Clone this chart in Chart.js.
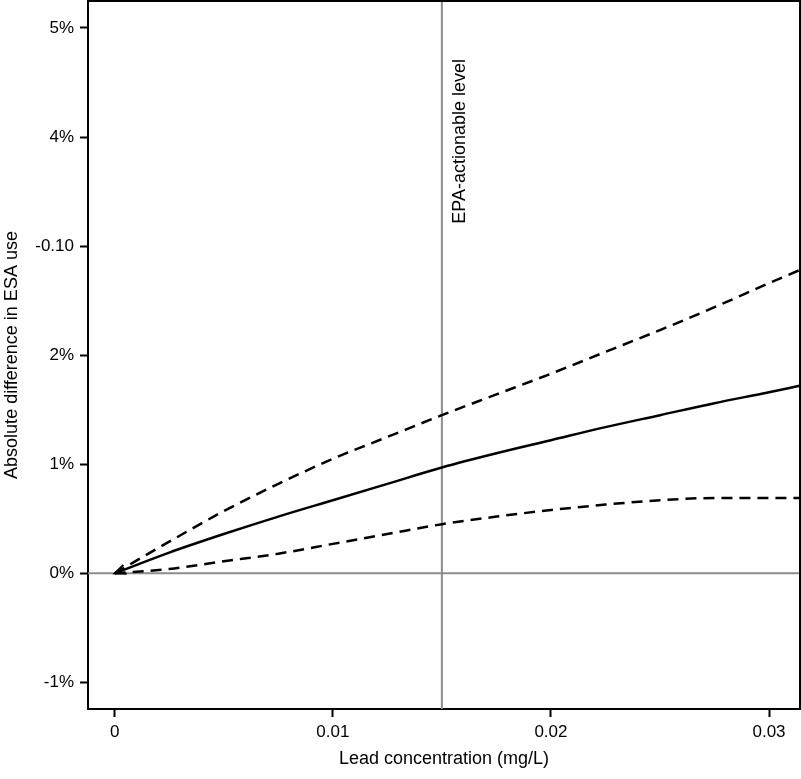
<!DOCTYPE html>
<html>
<head>
<meta charset="utf-8">
<script src="https://cdn.jsdelivr.net/npm/chart.js@4.4.1/dist/chart.umd.min.js"></script>
<style>
  html, body { margin: 0; padding: 0; background: #fff; }
  #wrap { width: 801px; height: 779px; position: relative; }
</style>
</head>
<body>
<div id="wrap"><canvas id="c" width="801" height="779"></canvas></div>
<script>
// ---- data ----
const leadConc   = [0, 0.0025, 0.005, 0.0075, 0.01, 0.0125, 0.015, 0.0175, 0.02, 0.0225, 0.025, 0.0275, 0.03, 0.0314];
const estimate   = [0, 0.19, 0.36, 0.52, 0.67, 0.82, 0.97, 1.10, 1.22, 1.34, 1.45, 1.56, 1.66, 1.72];
const upperCI    = [0, 0.29, 0.57, 0.82, 1.05, 1.25, 1.45, 1.64, 1.83, 2.03, 2.23, 2.44, 2.66, 2.78];
const lowerCI    = [0, 0.04, 0.11, 0.18, 0.27, 0.36, 0.45, 0.52, 0.58, 0.63, 0.67, 0.69, 0.69, 0.69];
const xTicks      = [0, 0.01, 0.02, 0.03];
const xTickLabels = ['0', '0.01', '0.02', '0.03'];
const yTicks      = [-1, 0, 1, 2, 3, 4, 5];
const yTickLabels = ['-1%', '0%', '1%', '2%', '-0.10', '4%', '5%'];
const epaLevel    = 0.015;
const epaLabel    = 'EPA-actionable level';
const xTitle      = 'Lead concentration (mg/L)';
const yTitle      = 'Absolute difference in ESA use';

const FONT = '"Liberation Sans", Arial, Helvetica, sans-serif';
const pts = arr => leadConc.map((x, i) => ({ x: x, y: arr[i] }));

const refPlugin = {
  id: 'refs',
  beforeDatasetsDraw(chart) {
    const { ctx, chartArea: a, scales: { x, y } } = chart;
    ctx.save();
    ctx.strokeStyle = '#8c8c8c';
    ctx.lineWidth = 2;
    const y0 = y.getPixelForValue(0);
    ctx.beginPath(); ctx.moveTo(a.left, y0); ctx.lineTo(a.right, y0); ctx.stroke();
    const xe = x.getPixelForValue(epaLevel);
    ctx.beginPath(); ctx.moveTo(xe, a.top); ctx.lineTo(xe, a.bottom); ctx.stroke();
    // label
    ctx.translate(xe + 18, a.top + 58);
    ctx.rotate(-Math.PI / 2);
    ctx.fillStyle = '#000';
    ctx.font = '18px ' + FONT;
    ctx.textAlign = 'right';
    ctx.textBaseline = 'middle';
    ctx.fillText(epaLabel, 0, 0);
    ctx.restore();
  },
  afterDatasetsDraw(chart) {
    const { ctx, chartArea: a } = chart;
    ctx.save();
    // arrowhead on the estimate line at its first point
    const m = chart.getDatasetMeta(0).data;
    const p0 = m[0], p1 = m[1];
    const ang = Math.atan2(p1.y - p0.y, p1.x - p0.x);
    const L = 12, spread = 0.4;
    ctx.strokeStyle = '#000';
    ctx.lineWidth = 2;
    ctx.beginPath();
    ctx.moveTo(p0.x + L * Math.cos(ang - spread), p0.y + L * Math.sin(ang - spread));
    ctx.lineTo(p0.x, p0.y);
    ctx.lineTo(p0.x + L * Math.cos(ang + spread), p0.y + L * Math.sin(ang + spread));
    ctx.stroke();
    // frame
    ctx.lineWidth = 2;
    ctx.beginPath();
    ctx.moveTo(a.left, a.top); ctx.lineTo(a.right, a.top); ctx.lineTo(a.right, a.bottom);
    ctx.stroke();
    ctx.restore();
  }
};

new Chart(document.getElementById('c'), {
  type: 'line',
  data: {
    datasets: [
      { data: pts(estimate), borderColor: '#000', borderWidth: 2.5, pointRadius: 0, cubicInterpolationMode: 'monotone', fill: false },
      { data: pts(upperCI), borderColor: '#000', borderWidth: 2.5, borderDash: [11, 7], pointRadius: 0, cubicInterpolationMode: 'monotone', fill: false },
      { data: pts(lowerCI), borderColor: '#000', borderWidth: 2.5, borderDash: [11, 7], pointRadius: 0, cubicInterpolationMode: 'monotone', fill: false }
    ]
  },
  options: {
    responsive: false,
    animation: false,
    devicePixelRatio: 1,
    layout: { padding: { top: 1, right: 1, left: 0, bottom: 0 } },
    plugins: { legend: { display: false }, tooltip: { enabled: false } },
    scales: {
      x: {
        type: 'linear',
        min: -0.001225,
        max: 0.03142,
        afterBuildTicks: s => { s.ticks = xTicks.map(v => ({ value: v })); },
        afterFit: s => { s.height = 70; s.paddingLeft = 0; s.paddingRight = 0; },
        ticks: {
          color: '#000', padding: 5, maxRotation: 0, autoSkip: false,
          font: { family: FONT, size: 17 },
          callback: (v) => { const i = xTicks.indexOf(v); return i >= 0 ? xTickLabels[i] : ''; }
        },
        grid: { display: true, drawOnChartArea: false, drawTicks: true, tickLength: 8, tickWidth: 2, tickColor: '#000' },
        border: { display: true, color: '#000', width: 2 },
        title: { display: true, text: xTitle, color: '#000', font: { family: FONT, size: 18 }, padding: { top: 0, bottom: 9 } }
      },
      y: {
        type: 'linear',
        min: -1.244,
        max: 5.247,
        afterBuildTicks: s => { s.ticks = yTicks.map(v => ({ value: v })); },
        afterFit: s => { s.width = 88; s.paddingTop = 0; s.paddingBottom = 0; },
        ticks: {
          color: '#000', padding: 6, autoSkip: false,
          font: { family: FONT, size: 17 },
          callback: (v) => { const i = yTicks.indexOf(v); return i >= 0 ? yTickLabels[i] : ''; }
        },
        grid: { display: true, drawOnChartArea: false, drawTicks: true, tickLength: 8, tickWidth: 2, tickColor: '#000' },
        border: { display: true, color: '#000', width: 2 },
        title: { display: true, text: yTitle, color: '#000', font: { family: FONT, size: 18 }, padding: { top: 1, bottom: 0 } }
      }
    }
  },
  plugins: [refPlugin]
});
</script>
</body>
</html>
